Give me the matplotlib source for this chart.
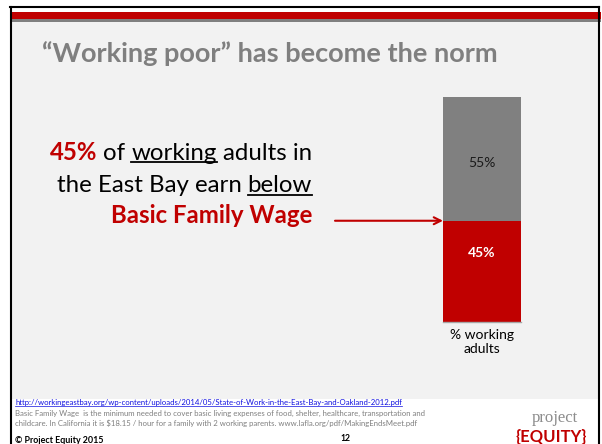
import matplotlib
matplotlib.use("Agg")
import matplotlib.pyplot as plt
from matplotlib.patches import Rectangle
from matplotlib.transforms import blended_transform_factory

# Chart data
categories = ["% working\nadults"]
below_wage = [45]
above_wage = [55]
value_labels_below = ["45%"]
value_labels_above = ["55%"]

title = "\u201cWorking poor\u201d has become the norm"
source_url = ("http://workingeastbay.org/wp-content/uploads/2014/05/"
              "State-of-Work-in-the-East-Bay-and-Oakland-2012.pdf")
note_lines = [
    "Basic Family Wage  is the minimum needed to cover basic living expenses of food, "
    "shelter, healthcare, transportation and",
    "childcare. In California it is $18.15 / hour for a family with 2 working parents. "
    "www.lafla.org/pdf/MakingEndsMeet.pdf",
]

RED = "#C00000"
GRAY = "#808080"
FONT = "Lato"

fig = plt.figure(figsize=(6.02, 4.44), dpi=100)
fig.patch.set_facecolor("white")

# Full-figure axes in pixel coordinates for slide decorations
ax = fig.add_axes([0, 0, 1, 1])
ax.set_xlim(0, 602)
ax.set_ylim(444, 0)
ax.axis("off")

ax.add_patch(Rectangle((11, 22), 587, 377, facecolor="#F2F2F2", edgecolor="none"))
ax.add_patch(Rectangle((11, 12), 590, 7.5, facecolor=RED, edgecolor="none"))
ax.add_patch(Rectangle((11, 19.5), 590, 3, facecolor=GRAY, edgecolor="none"))
ax.plot([10, 599], [7, 7], color="black", lw=1.5)
ax.plot([11, 11], [7, 444], color="black", lw=1.5)
ax.plot([598.5, 598.5], [7, 444], color="black", lw=1.5)

ax.text(42, 62, title, fontsize=19.5, fontweight="bold", color="#7F7F7F",
        family=FONT, va="baseline", ha="left")

renderer = fig.canvas.get_renderer()


def text_width(s, size, weight="normal"):
    t = ax.text(0, 0, s, fontsize=size, fontweight=weight, family=FONT)
    w = t.get_window_extent(renderer).width
    t.remove()
    return w


def rich_line(pieces, x_right, y_base, size):
    space = text_width("a a", size) - text_width("aa", size)
    widths = [text_width(p[0], size, p[2]) for p in pieces]
    total = sum(widths) + space * (len(pieces) - 1)
    x = x_right - total
    for (s, color, weight, under), w in zip(pieces, widths):
        ax.text(x, y_base, s, fontsize=size, fontweight=weight, color=color,
                family=FONT, va="baseline", ha="left")
        if under:
            ax.plot([x, x + w], [y_base + 2.5, y_base + 2.5], color=color, lw=1.3)
        x += w + space


rich_line([("45%", RED, "bold", False), ("of", "black", "normal", False),
           ("working", "black", "normal", True), ("adults in", "black", "normal", False)],
          312, 160, 17.3)
rich_line([("the East Bay earn", "black", "normal", False),
           ("below", "black", "normal", True)], 312, 192, 17.3)
rich_line([("Basic Family Wage", RED, "bold", False)], 312, 223, 17.3)

# Stacked bar
bx = fig.add_axes([443 / 602, (444 - 322) / 444, 78 / 602, 225 / 444])
bx.set_facecolor("none")
x = range(len(categories))
bx.bar(x, below_wage, width=1, color=RED)
bx.bar(x, above_wage, width=1, bottom=below_wage, color=GRAY)
bx.set_xlim(-0.5, 0.5)
bx.set_ylim(0, 100)
for i in x:
    bx.text(i, below_wage[i] * 0.68, value_labels_below[i], ha="center", va="center",
            color="white", fontweight="bold", fontsize=10, family=FONT)
    bx.text(i, below_wage[i] + above_wage[i] * 0.47, value_labels_above[i], ha="center",
            va="center", color="#1a1a1a", fontsize=10, family=FONT)
bx.set_xticks(list(x))
bx.set_xticklabels(categories, fontsize=10, family=FONT, linespacing=1.25)
bx.tick_params(axis="x", length=0, pad=5)
bx.set_yticks([])
for side in ["top", "left", "right"]:
    bx.spines[side].set_visible(False)
bx.spines["bottom"].set_color("#A6A6A6")
bx.spines["bottom"].set_linewidth(1)

# Arrow pointing at the bar boundary
arrow_tr = blended_transform_factory(ax.transData, bx.transData)
ax.annotate("", xy=(-0.5, below_wage[0]), xycoords=bx.transData,
            xytext=(335, below_wage[0]), textcoords=arrow_tr,
            arrowprops=dict(arrowstyle="->,head_length=0.5,head_width=0.25",
                            color=RED, lw=1.5, shrinkA=0, shrinkB=0))

# Footer
FS = 5.6
ax.text(15, 405, source_url, fontsize=FS, color="#1010E0", family=FONT, va="baseline")
url_w = text_width(source_url, FS)
ax.plot([15, 15 + url_w], [406.3, 406.3], color="#1010E0", lw=0.5)
ax.text(15, 415.5, note_lines[0], fontsize=FS, color="#7F7F7F", family=FONT, va="baseline")
ax.text(15, 425.5, note_lines[1], fontsize=FS, color="#7F7F7F", family=FONT, va="baseline")
ax.text(15, 443, "\u00a9 Project Equity 2015", fontsize=6.4, fontweight="bold",
        color="black", family=FONT, va="baseline")
ax.text(345, 441, "12", fontsize=6.2, fontweight="bold", color="black", family=FONT,
        va="baseline", ha="center")

ax.text(555, 422, "project", fontsize=12, color="#8C8C8C", family="Liberation Serif",
        va="baseline", ha="center")
ax.text(551, 442, "{EQUITY}", fontsize=12, fontweight="bold", color=RED,
        family=FONT, va="baseline", ha="center")

fig.savefig("out.png", dpi=100)
